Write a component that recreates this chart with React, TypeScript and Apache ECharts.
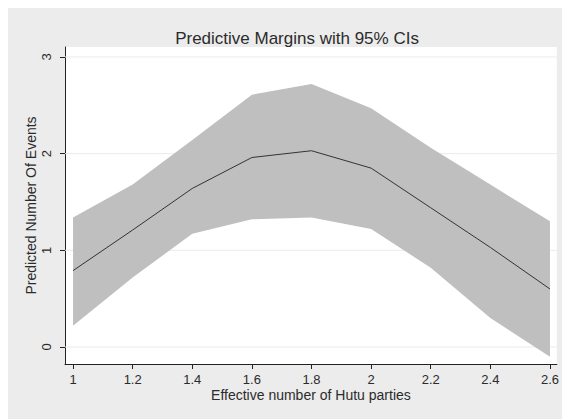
import React, { useEffect, useRef } from "react";
import * as echarts from "echarts";

// Effective number of Hutu parties (evaluation points)
const hutuParties = [1, 1.2, 1.4, 1.6, 1.8, 2, 2.2, 2.4, 2.6];
// Predicted number of events (margins)
const predicted = [0.79, 1.21, 1.64, 1.96, 2.03, 1.85, 1.44, 1.03, 0.6];
// 95% confidence interval bounds
const ciUpper = [1.34, 1.68, 2.14, 2.61, 2.72, 2.47, 2.06, 1.68, 1.3];
const ciLower = [0.22, 0.72, 1.17, 1.32, 1.34, 1.22, 0.82, 0.3, -0.1];

const xTicks = [1, 1.2, 1.4, 1.6, 1.8, 2, 2.2, 2.4, 2.6];
const yTicks = [0, 1, 2, 3];

const FONT = "'Liberation Sans', Arial, sans-serif";
const TEXT = "#2b2b2b";

export default function App() {
  const ref = useRef<HTMLDivElement>(null);

  useEffect(() => {
    if (!ref.current) return;
    const chart = echarts.init(ref.current, undefined, { renderer: "svg" });

    const bandRows = hutuParties.map((x, i) => [x, ciLower[i], ciUpper[i]]);
    const marginPts = hutuParties.map((x, i) => [x, predicted[i]]);

    // Horizontal grid lines at the y ticks, then the CI band as one polygon.
    const renderBand = (params: any, api: any) => {
      if (params.dataIndex !== 0) return null;
      const cs = params.coordSys;
      const gridLines = yTicks.map((v) => {
        const y = api.coord([hutuParties[0], v])[1];
        return {
          type: "line",
          shape: { x1: cs.x, y1: y, x2: cs.x + cs.width, y2: y },
          style: { stroke: "#ebebeb", lineWidth: 1 },
        };
      });
      const top = bandRows.map((r) => api.coord([r[0], r[2]]));
      const bottom = bandRows
        .slice()
        .reverse()
        .map((r) => api.coord([r[0], r[1]]));
      return {
        type: "group",
        children: [
          ...gridLines,
          {
            type: "polygon",
            shape: { points: top.concat(bottom) },
            style: { fill: "#bfbfbf" },
          },
        ],
      };
    };

    chart.setOption({
      animation: false,
      backgroundColor: "#ffffff",
      textStyle: { fontFamily: FONT },
      graphic: [
        {
          type: "rect",
          z: -10,
          silent: true,
          shape: { x: 8, y: 8, width: 554, height: 411 },
          style: { fill: "#ececec" },
        },
      ],
      title: {
        text: "Predictive Margins with 95% CIs",
        left: 292,
        textAlign: "center",
        top: 25,
        textStyle: {
          fontFamily: FONT,
          fontSize: 17,
          fontWeight: "normal",
          color: TEXT,
        },
      },
      grid: {
        left: 65,
        right: 2,
        top: 47,
        bottom: 55,
        show: true,
        backgroundColor: "#ffffff",
        borderWidth: 0,
      },
      xAxis: {
        type: "value",
        min: 0.973,
        max: 2.623,
        name: "Effective number of Hutu parties",
        nameLocation: "middle",
        nameGap: 24,
        nameMoveOverlap: false,
        nameTextStyle: { fontFamily: FONT, fontSize: 14, color: TEXT },
        axisLine: { show: true, onZero: false, lineStyle: { color: "#222", width: 1 } },
        axisTick: {
          show: true,
          length: 5,
          customValues: xTicks,
          lineStyle: { color: "#222" },
        },
        axisLabel: {
          customValues: xTicks,
          margin: 9,
          fontFamily: FONT,
          fontSize: 13,
          color: TEXT,
        },
        splitLine: { show: false },
      },
      yAxis: {
        type: "value",
        min: -0.176,
        max: 3.103,
        name: "Predicted Number Of Events",
        nameLocation: "middle",
        nameGap: 27,
        nameMoveOverlap: false,
        nameTextStyle: { fontFamily: FONT, fontSize: 14, color: TEXT },
        axisLine: { show: true, onZero: false, lineStyle: { color: "#222", width: 1 } },
        axisTick: {
          show: true,
          length: 5,
          customValues: yTicks,
          lineStyle: { color: "#222" },
        },
        axisLabel: {
          customValues: yTicks,
          rotate: 90,
          margin: 12,
          fontFamily: FONT,
          fontSize: 13,
          color: TEXT,
        },
        splitLine: { show: false },
      },
      series: [
        {
          name: "95% CI",
          type: "custom",
          data: bandRows,
          encode: { x: 0, y: [1, 2] },
          renderItem: renderBand,
          silent: true,
          clip: true,
        },
        {
          name: "Predicted",
          type: "line",
          data: marginPts,
          symbol: "none",
          lineStyle: { color: "#333333", width: 1 },
          silent: true,
        },
      ],
    });

    return () => chart.dispose();
  }, []);

  return (
    <div
      ref={ref}
      style={{ position: "fixed", left: 0, top: 0, width: 562, height: 419 }}
    />
  );
}
